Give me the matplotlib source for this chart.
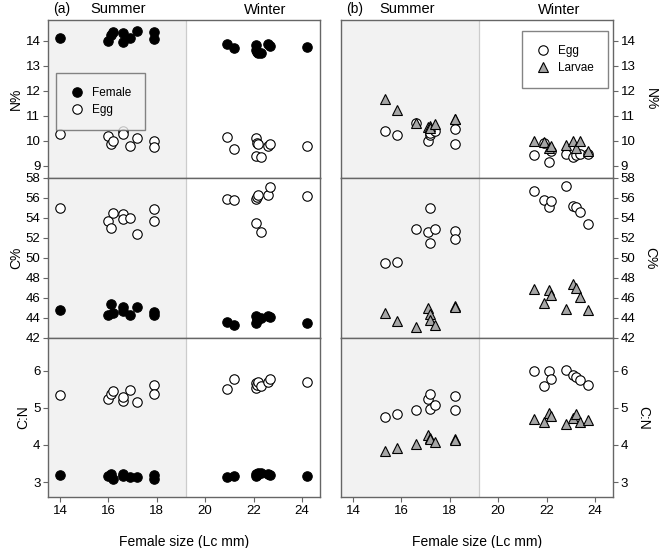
import matplotlib.pyplot as plt
from matplotlib.lines import Line2D

plt.rcParams['font.family'] = ['Liberation Sans', 'DejaVu Sans']

# panel (a): female size of each sample (summer then winter)
x_a = [14.0, 16.0, 16.1, 16.2, 16.6, 16.6, 16.9, 17.2, 17.9, 17.9,
       20.9, 21.2, 22.1, 22.1, 22.15, 22.2, 22.3, 22.6, 22.7, 24.2]
female_n = [14.12, 14.0, 14.23, 14.36, 14.29, 13.96, 14.12, 14.39, 14.33, 14.07,
            13.88, 13.69, 13.83, 13.63, 13.55, 13.49, 13.52, 13.85, 13.79, 13.73]
egg_n_a = [10.25, 10.2, 9.85, 9.99, 10.39, 10.25, 9.8, 10.12, 10.0, 9.76,
           10.13, 9.65, 10.12, 9.4, 9.92, 9.85, 9.36, 9.8, 9.85, 9.8]
female_c = [44.83, 44.33, 45.4, 44.5, 45.1, 44.67, 44.33, 45.1, 44.6, 44.27,
            43.6, 43.3, 44.17, 43.5, 43.8, 43.9, 43.95, 44.23, 44.07, 43.47]
egg_c_a = [54.97, 53.67, 53.0, 54.5, 54.4, 53.93, 54.0, 52.4, 54.93, 53.73,
           55.93, 55.83, 55.93, 53.5, 56.1, 56.27, 52.57, 56.27, 57.07, 56.23]
female_cn = [3.18, 3.17, 3.21, 3.09, 3.21, 3.17, 3.15, 3.13, 3.19, 3.08,
             3.15, 3.17, 3.17, 3.22, 3.2, 3.24, 3.24, 3.21, 3.2, 3.17]
egg_cn_a = [5.35, 5.24, 5.36, 5.45, 5.19, 5.3, 5.48, 5.17, 5.61, 5.36,
            5.51, 5.77, 5.53, 5.66, 5.61, 5.7, 5.59, 5.7, 5.78, 5.7]

# panel (b)
x_b = [15.3, 15.8, 16.6, 17.1, 17.2, 17.2, 17.4, 18.2, 18.2,
       21.5, 21.9, 22.1, 22.2, 22.8, 23.1, 23.2, 23.4, 23.7]
egg_n_b = [10.4, 10.23, 10.69, 10.0, 10.23, 10.3, 10.39, 10.47, 9.87,
           9.43, 9.92, 9.16, 9.6, 9.47, 9.34, 9.43, 9.45, 9.45]
larvae_n = [11.67, 11.23, 10.69, 10.53, 10.59, 10.5, 10.65, 10.87, 10.85,
            10.0, 9.95, 9.7, 9.79, 9.83, 10.0, 9.69, 10.0, 9.6]
egg_c_b = [49.55, 49.61, 52.87, 52.57, 55.01, 51.46, 52.87, 52.7, 51.86,
           56.73, 55.85, 55.15, 55.75, 57.19, 55.18, 55.15, 54.58, 53.4]
larvae_c = [44.45, 43.74, 43.07, 44.95, 44.35, 43.78, 43.34, 45.19, 45.15,
            46.93, 45.52, 46.76, 46.26, 44.85, 47.37, 47.03, 46.09, 44.75]
egg_cn_b = [4.75, 4.83, 4.94, 5.24, 5.37, 4.98, 5.08, 5.31, 4.94,
            6.0, 5.6, 5.98, 5.78, 6.01, 5.89, 5.83, 5.74, 5.62]
larvae_cn = [3.83, 3.92, 4.02, 4.28, 4.19, 4.15, 4.08, 4.16, 4.14,
             4.7, 4.61, 4.86, 4.77, 4.57, 4.72, 4.84, 4.63, 4.68]

row_labels = ['N%', 'C%', 'C:N']
row_ylims = [(8.5, 14.83), (42, 58), (2.6, 6.88)]
row_ticks = [range(9, 15), range(42, 59, 2), range(3, 7)]
x_ticks = [14, 16, 18, 20, 22, 24]
season_split = 19.2

W, H = 660, 548
fig = plt.figure(figsize=(W / 100, H / 100), dpi=100)

spine_col = '#666666'
ms = 6.8
circ_filled = dict(marker='o', ms=ms, mfc='black', mec='black', mew=0.8, ls='none')
circ_open = dict(marker='o', ms=ms, mfc='white', mec='black', mew=0.8, ls='none')
tri = dict(marker='^', ms=ms, mfc='#a6a6a6', mec='black', mew=0.8, ls='none')


def make_axes(left_px, right_side):
    axes = []
    top = 20
    heights = [158, 160, 159]
    for i, h in enumerate(heights):
        ax = fig.add_axes([left_px / W, 1 - (top + h) / H, 272 / W, h / H])
        top += h
        ax.set_xlim(13.5, 24.75)
        ax.set_ylim(*row_ylims[i])
        ax.set_yticks(list(row_ticks[i]))
        ax.set_xticks(x_ticks)
        ax.axvspan(13.5, season_split, color='#f2f2f2', zorder=0, lw=0)
        ax.axvline(season_split, color='#cccccc', lw=0.9, zorder=0.5)
        for s in ax.spines.values():
            s.set_color(spine_col)
            s.set_linewidth(1.0)
        ax.tick_params(direction='out', length=3.5, width=0.8, color=spine_col,
                       labelsize=9.5, pad=2)
        if right_side:
            ax.yaxis.tick_right()
            ax.yaxis.set_label_position('right')
            ax.set_ylabel(row_labels[i], fontsize=10, rotation=270, labelpad=16)
        else:
            ax.set_ylabel(row_labels[i], fontsize=10, labelpad=2)
        if i < 2:
            ax.tick_params(axis='x', labelbottom=False)
        else:
            ax.set_xlabel('Female size (Lc mm)', fontsize=10, labelpad=13)
        axes.append(ax)
    return axes


axes_a = make_axes(48, False)
axes_b = make_axes(341, True)

# panel (a)
for ax, fem, egg in zip(axes_a, [female_n, female_c, female_cn],
                        [egg_n_a, egg_c_a, egg_cn_a]):
    ax.plot(x_a, fem, zorder=3, **circ_filled)
    ax.plot(x_a, egg, zorder=3, **circ_open)

# panel (b)
for ax, egg, lar in zip(axes_b, [egg_n_b, egg_c_b, egg_cn_b],
                        [larvae_n, larvae_c, larvae_cn]):
    ax.plot(x_b, egg, zorder=3, **circ_open)
    ax.plot(x_b, lar, zorder=3, **tri)

leg_a = axes_a[0].legend(
    [Line2D([], [], **circ_filled), Line2D([], [], **circ_open)],
    ['Female', 'Egg'], loc='upper left', bbox_to_anchor=(0.03, 0.665),
    fontsize=8.5, frameon=True, fancybox=False, edgecolor=spine_col,
    borderpad=1.2, handletextpad=0.6, labelspacing=0.4, borderaxespad=0,
    handlelength=1.2)
leg_a.get_frame().set_linewidth(1.0)
leg_a.get_frame().set_facecolor('#f2f2f2')

leg_b = axes_b[0].legend(
    [Line2D([], [], **circ_open), Line2D([], [], **tri)],
    ['Egg', 'Larvae'], loc='upper right', bbox_to_anchor=(0.98, 0.93),
    fontsize=8.5, frameon=True, fancybox=False, edgecolor=spine_col,
    borderpad=1.2, handletextpad=0.6, labelspacing=0.4, borderaxespad=0,
    handlelength=1.2)
leg_b.get_frame().set_linewidth(1.0)
leg_b.get_frame().set_facecolor('white')

# header texts
fig.text(53 / W, 1 - 9 / H, '(a)', fontsize=10, va='center')
fig.text(118 / W, 1 - 9 / H, 'Summer', fontsize=10.5, va='center', ha='center')
fig.text(265 / W, 1 - 10 / H, 'Winter', fontsize=10.5, va='center', ha='center')
fig.text(346 / W, 1 - 9 / H, '(b)', fontsize=10, va='center')
fig.text(407 / W, 1 - 9 / H, 'Summer', fontsize=10.5, va='center', ha='center')
fig.text(559 / W, 1 - 10 / H, 'Winter', fontsize=10.5, va='center', ha='center')

fig.savefig('out.png', dpi=100)
